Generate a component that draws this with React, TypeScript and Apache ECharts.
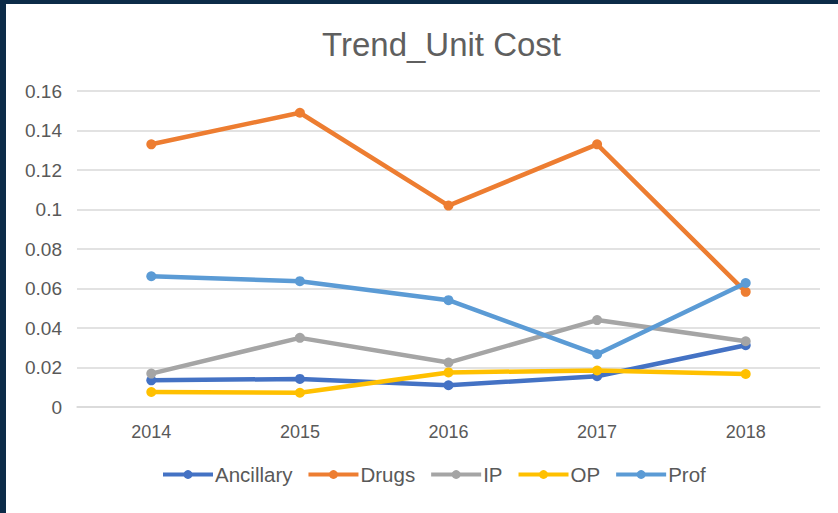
import React, { useEffect, useRef } from "react";
import * as echarts from "echarts";

const years = ["2014", "2015", "2016", "2017", "2018"];
const seriesNames = ["Ancillary", "Drugs", "IP", "OP", "Prof"];
const ancillary = [0.0135, 0.0142, 0.011, 0.0156, 0.0313];
const drugs = [0.133, 0.149, 0.102, 0.133, 0.0583];
const ip = [0.0169, 0.035, 0.0225, 0.044, 0.0333];
const op = [0.0076, 0.0072, 0.0175, 0.0185, 0.0167];
const prof = [0.0662, 0.0637, 0.0541, 0.0267, 0.0628];
const colors = ["#4472C4", "#ED7D31", "#A5A5A5", "#FFC000", "#5B9BD5"];

export default function App() {
  const ref = useRef<HTMLDivElement>(null);
  useEffect(() => {
    if (!ref.current) return;
    const chart = echarts.init(ref.current, null, { renderer: "svg" });
    const values = [ancillary, drugs, ip, op, prof];
    const font = "'Liberation Sans', Arial, Helvetica, sans-serif";
    chart.setOption({
      animation: false,
      backgroundColor: "#ffffff",
      title: {
        text: "Trend_Unit Cost",
        left: 311,
        top: 19,
        textStyle: { fontSize: 33, fontWeight: "normal", color: "#5f5f5f", fontFamily: font },
      },
      grid: { left: 71, right: 18, top: 87, bottom: 106, containLabel: false },
      legend: {
        data: seriesNames,
        bottom: 23,
        left: 150,
        itemWidth: 50,
        itemHeight: 11,
        itemGap: 14,
        lineStyle: { width: 4 },
        textStyle: { fontSize: 20.5, color: "#595959", fontFamily: font, padding: [0, 0, 0, -3] },
      },
      xAxis: {
        type: "category",
        data: years,
        boundaryGap: true,
        axisLine: { show: true, lineStyle: { color: "#d9d9d9", width: 1.5 } },
        axisTick: { show: false },
        axisLabel: { fontSize: 18, color: "#595959", fontFamily: font, margin: 16 },
      },
      yAxis: {
        type: "value",
        min: 0,
        max: 0.16,
        interval: 0.02,
        axisLine: { show: false },
        axisTick: { show: false },
        splitLine: { lineStyle: { color: "#d9d9d9", width: 1.5 } },
        axisLabel: {
          fontSize: 19,
          color: "#595959",
          fontFamily: font,
          margin: 15,
          formatter: (v: number) => String(parseFloat(v.toFixed(2))),
        },
      },
      series: seriesNames.map((name, i) => ({
        name,
        type: "line",
        data: values[i],
        symbol: "circle",
        symbolSize: 10,
        itemStyle: { color: colors[i] },
        lineStyle: { color: colors[i], width: 4.5 },
      })),
    });
    return () => chart.dispose();
  }, []);
  return (
    <div
      style={{
        position: "absolute",
        left: 0,
        top: 0,
        width: 838,
        height: 513,
        background: "#0c2b48",
      }}
    >
      <div
        ref={ref}
        style={{
          position: "absolute",
          left: 6,
          top: 4,
          width: 832,
          height: 509,
          boxShadow: "inset 1px 1px 0 #c8c8c8",
        }}
      />
    </div>
  );
}
